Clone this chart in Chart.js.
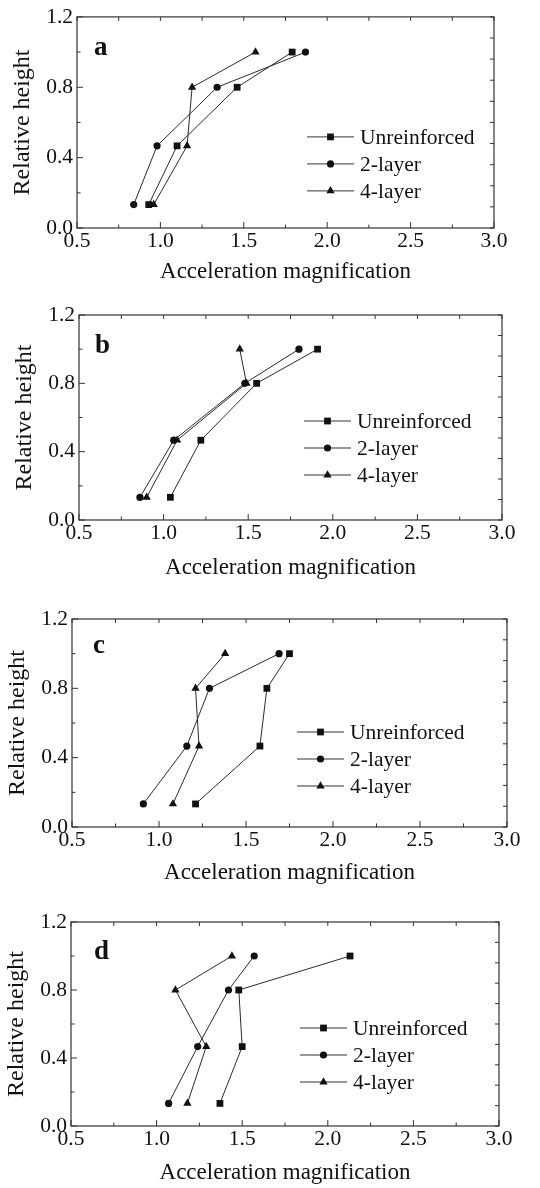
<!DOCTYPE html>
<html>
<head>
<meta charset="utf-8">
<script src="https://cdn.jsdelivr.net/npm/chart.js@4.4.1/dist/chart.umd.min.js"></script>
<style>
  html, body { margin: 0; padding: 0; background: #fff; }
  body { width: 540px; height: 1188px; position: relative; overflow: hidden; }
  canvas { position: absolute; left: 0; }
</style>
</head>
<body>
<canvas id="panelA"></canvas>
<canvas id="panelB"></canvas>
<canvas id="panelC"></canvas>
<canvas id="panelD"></canvas>
<script>
// relative heights of the measuring points (same for all panels)
const heights = [0.133, 0.467, 0.8, 1.0];
const seriesNames = ['Unreinforced', '2-layer', '4-layer'];
const markerStyles = ['rect', 'circle', 'triangle'];

// acceleration magnification, bottom to top
const unreinforcedA = [0.93, 1.10, 1.46, 1.79];
const twoLayerA = [0.84, 0.98, 1.34, 1.87];
const fourLayerA = [0.96, 1.16, 1.19, 1.57];

const unreinforcedB = [1.04, 1.22, 1.55, 1.91];
const twoLayerB = [0.86, 1.06, 1.48, 1.80];
const fourLayerB = [0.90, 1.08, 1.49, 1.45];

const unreinforcedC = [1.21, 1.58, 1.62, 1.75];
const twoLayerC = [0.91, 1.16, 1.29, 1.69];
const fourLayerC = [1.08, 1.23, 1.21, 1.38];

const unreinforcedD = [1.37, 1.50, 1.48, 2.13];
const twoLayerD = [1.07, 1.24, 1.42, 1.57];
const fourLayerD = [1.18, 1.29, 1.11, 1.44];

const xTickValues = [0.5, 1.0, 1.5, 2.0, 2.5, 3.0];
const yTickValues = [0.0, 0.4, 0.8, 1.2];

const FONT = '"Liberation Serif", "Times New Roman", serif';
Chart.defaults.font.family = FONT;
Chart.defaults.color = '#111';

// where each panel sits on the page
const panels = [
  { id: 'panelA', letter: 'a', top: 0, height: 290, plot: { left: 77, right: 494, top: 15, bottom: 228 },
    titleGap: 44, legend: { dx: 230, dy: 120 }, letterPos: { dx: 17, dy: 38 },
    series: [unreinforcedA, twoLayerA, fourLayerA] },
  { id: 'panelB', letter: 'b', top: 290, height: 300, plot: { left: 79, right: 502, top: 315, bottom: 520 },
    titleGap: 48, legend: { dx: 225, dy: 106 }, letterPos: { dx: 16, dy: 38 },
    series: [unreinforcedB, twoLayerB, fourLayerB] },
  { id: 'panelC', letter: 'c', top: 590, height: 300, plot: { left: 72, right: 507, top: 619, bottom: 827 },
    titleGap: 46, legend: { dx: 225, dy: 113 }, letterPos: { dx: 21, dy: 34 },
    series: [unreinforcedC, twoLayerC, fourLayerC] },
  { id: 'panelD', letter: 'd', top: 890, height: 298, plot: { left: 71, right: 499, top: 922, bottom: 1126 },
    titleGap: 47, legend: { dx: 229, dy: 106 }, letterPos: { dx: 23, dy: 37 },
    series: [unreinforcedD, twoLayerD, fourLayerD] }
];

const Y_AXIS_W = 69;
const X_TITLE_SIZE = 23;
const Y_TITLE_SIZE = 24;
const TICK_SIZE = 21.5;

function drawMarker(ctx, style, x, y, r) {
  ctx.beginPath();
  if (style === 'rect') {
    const s = r * Math.SQRT1_2;
    ctx.rect(x - s, y - s, 2 * s, 2 * s);
  } else if (style === 'circle') {
    ctx.arc(x, y, r, 0, Math.PI * 2);
  } else {
    ctx.moveTo(x, y - r);
    ctx.lineTo(x + r * 0.866, y + r * 0.5);
    ctx.lineTo(x - r * 0.866, y + r * 0.5);
    ctx.closePath();
  }
  ctx.fill();
}

// box round the plot with inward ticks on all four sides
const framePlugin = {
  id: 'frame',
  beforeDatasetsDraw(chart) {
    const { ctx, chartArea: a, scales: { x, y } } = chart;
    ctx.save();
    ctx.strokeStyle = '#333';
    ctx.lineWidth = 1.2;
    ctx.strokeRect(a.left, a.top, a.right - a.left, a.bottom - a.top);
    ctx.lineWidth = 1;
    ctx.beginPath();
    for (let v = 0.5; v <= 3.0001; v += 0.25) {
      const px = x.getPixelForValue(v);
      const major = Math.abs(v * 2 - Math.round(v * 2)) < 1e-6;
      ctx.moveTo(px, a.bottom);
      ctx.lineTo(px, a.bottom - (major ? 6 : 3.5));
      ctx.moveTo(px, a.top);
      ctx.lineTo(px, a.top + 4);
    }
    for (let v = 0; v <= 1.2001; v += 0.2) {
      const py = y.getPixelForValue(v);
      const major = Math.abs(v / 0.4 - Math.round(v / 0.4)) < 1e-6;
      ctx.moveTo(a.left, py);
      ctx.lineTo(a.left + (major ? 6 : 3.5), py);
    }
    for (let v = 0; v <= 1.2001; v += 0.12) {
      const py = y.getPixelForValue(v);
      ctx.moveTo(a.right, py);
      ctx.lineTo(a.right - 4, py);
    }
    ctx.stroke();
    ctx.restore();
  }
};

// legend (line + marker) and panel letter
const legendPlugin = {
  id: 'lineLegend',
  afterDraw(chart, args, opts) {
    const { ctx, chartArea: a } = chart;
    ctx.save();
    const x0 = a.left + opts.dx;
    chart.data.datasets.forEach((ds, i) => {
      const yy = a.top + opts.dy + i * 27;
      ctx.strokeStyle = '#333';
      ctx.lineWidth = 1;
      ctx.beginPath();
      ctx.moveTo(x0, yy);
      ctx.lineTo(x0 + 47, yy);
      ctx.stroke();
      ctx.fillStyle = '#111';
      drawMarker(ctx, ds.pointStyle, x0 + 23.5, yy, ds.pointRadius);
      ctx.font = '21.5px ' + FONT;
      ctx.textBaseline = 'middle';
      ctx.fillText(ds.label, x0 + 53, yy + 1);
    });
    ctx.font = 'bold 27px ' + FONT;
    ctx.textBaseline = 'alphabetic';
    ctx.fillText(opts.letter, a.left + opts.letterDx, a.top + opts.letterDy);
    ctx.restore();
  }
};

panels.forEach(p => {
  const canvas = document.getElementById(p.id);
  canvas.width = 540;
  canvas.height = p.height;
  canvas.style.top = p.top + 'px';
  const xAxisH = p.titleGap + X_TITLE_SIZE * 1.2 / 2;

  new Chart(canvas.getContext('2d'), {
    type: 'scatter',
    data: {
      datasets: p.series.map((vals, i) => ({
        label: seriesNames[i],
        data: vals.map((v, k) => ({ x: v, y: heights[k] })),
        showLine: true,
        borderColor: '#2a2a2a',
        borderWidth: 1,
        pointStyle: markerStyles[i],
        pointRadius: i === 1 ? 3.6 : 4.8,
        pointBackgroundColor: '#111',
        pointBorderColor: '#111',
        pointBorderWidth: 0
      }))
    },
    options: {
      responsive: false,
      animation: false,
      layout: {
        padding: {
          left: p.plot.left - Y_AXIS_W,
          right: 540 - p.plot.right,
          top: p.plot.top - p.top,
          bottom: p.top + p.height - p.plot.bottom - xAxisH
        }
      },
      plugins: {
        legend: { display: false },
        tooltip: { enabled: false },
        lineLegend: { dx: p.legend.dx, dy: p.legend.dy, letter: p.letter,
                      letterDx: p.letterPos.dx, letterDy: p.letterPos.dy }
      },
      scales: {
        x: {
          type: 'linear',
          min: 0.5,
          max: 3.0,
          grid: { display: false, drawTicks: false },
          border: { display: false },
          afterBuildTicks: s => { s.ticks = xTickValues.map(v => ({ value: v })); },
          afterFit: s => { s.height = xAxisH; },
          ticks: { padding: 0, font: { size: TICK_SIZE }, color: '#111', callback: v => v.toFixed(1), maxRotation: 0 },
          title: { display: true, text: 'Acceleration magnification', font: { size: X_TITLE_SIZE }, color: '#111', padding: 0 }
        },
        y: {
          type: 'linear',
          min: 0,
          max: 1.2,
          grid: { display: false, drawTicks: false },
          border: { display: false },
          afterBuildTicks: s => { s.ticks = yTickValues.map(v => ({ value: v })); },
          afterFit: s => { s.width = Y_AXIS_W; },
          ticks: { padding: 4, font: { size: TICK_SIZE }, color: '#111', callback: v => v.toFixed(1) },
          title: { display: true, text: 'Relative height', font: { size: Y_TITLE_SIZE }, color: '#111', padding: 0 }
        }
      }
    },
    plugins: [framePlugin, legendPlugin]
  });
});
</script>
</body>
</html>
